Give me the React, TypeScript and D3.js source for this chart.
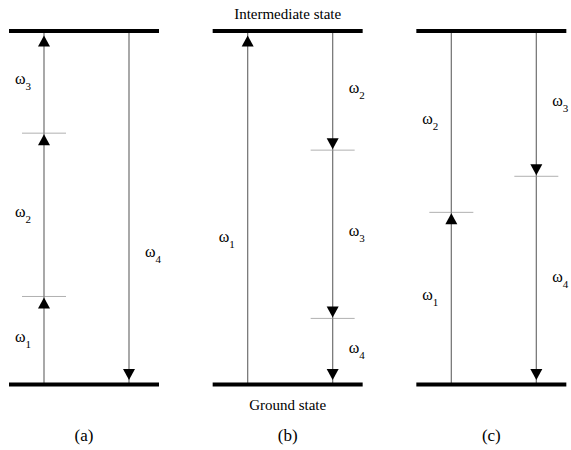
import React from 'react';
import * as d3 from 'd3';

// panels of the diagram
const panelKeys = ['a', 'b', 'c'];
const panelLabels = ['(a)', '(b)', '(c)'];
const levelNames = ['Ground state', 'Intermediate state'];

// transitions, energies relative to ground (0) and intermediate state (1)
// col: 0 = left arrow, 1 = right arrow
const transitionsA = [
  { col: 0, from: 0, to: 0.249, sub: '1', side: 'left', labelAt: 0.5, head: true },
  { col: 0, from: 0.249, to: 0.711, sub: '2', side: 'left', labelAt: 0.5, head: true },
  { col: 0, from: 0.711, to: 1, sub: '3', side: 'left', labelAt: 0.5, head: true },
  { col: 1, from: 1, to: 0, sub: '4', side: 'right', labelAt: 0.365, head: true },
];
const transitionsB = [
  { col: 0, from: 0, to: 1, sub: '1', side: 'left', labelAt: 0.41, head: true },
  { col: 1, from: 1, to: 0.663, sub: '2', side: 'right', labelAt: 0.5, head: true },
  { col: 1, from: 0.663, to: 0.187, sub: '3', side: 'right', labelAt: 0.5, head: true },
  { col: 1, from: 0.187, to: 0, sub: '4', side: 'right', labelAt: 0.5, head: true },
];
const transitionsC = [
  { col: 0, from: 0, to: 0.487, sub: '1', side: 'left', labelAt: 0.5, head: true },
  { col: 0, from: 0.487, to: 1, sub: '2', side: 'left', labelAt: 0.5, head: false },
  { col: 1, from: 1, to: 0.589, sub: '3', side: 'right', labelAt: 0.5, head: true },
  { col: 1, from: 0.589, to: 0, sub: '4', side: 'right', labelAt: 0.5, head: true },
];
const transitions = [transitionsA, transitionsB, transitionsC];

const width = 571;
const height = 450;
const font = 'Liberation Serif';

const App = () => {
  const y = d3.scaleLinear().domain([0, 1]).range([384.5, 31]);
  const panelX = d3.scaleBand().domain(panelKeys).range([9, 620]).paddingInner(0);
  const barW = 150;
  // position of the two arrow columns inside a panel
  const colX = d3.scaleLinear().domain([0, 1]).range([35, 120]);

  return (
    <svg width={width} height={height} style={{ position: 'absolute', left: 0, top: 0, background: '#fff' }}>
      {panelKeys.map((k, pi) => {
        const x0 = panelX(k)!;
        const trs = transitions[pi];
        const cx = x0 + barW / 2;
        return (
          <g key={k}>
            {/* intermediate level ticks */}
            {trs.filter(t => t.to > 0 && t.to < 1).map((t, i) => {
              const ax = x0 + colX(t.col);
              return <line key={'t' + i} x1={ax - 22} x2={ax + 22} y1={y(t.to)} y2={y(t.to)}
                stroke="#b0b0b0" strokeWidth={1} />;
            })}
            {/* arrow lines */}
            {trs.map((t, i) => {
              const ax = x0 + colX(t.col);
              return <line key={'l' + i} x1={ax} x2={ax} y1={y(t.from)} y2={y(t.to)}
                stroke="#7a7a7a" strokeWidth={1.3} />;
            })}
            {/* arrow heads */}
            {trs.filter(t => t.head).map((t, i) => {
              const ax = x0 + colX(t.col);
              const up = t.to > t.from;
              const edge = t.to === 0 || t.to === 1;
              const tip = y(t.to) + (up ? 1 : -1) * (edge ? 4.5 : 1);
              const base = tip + (up ? 11 : -11);
              const p = d3.path();
              p.moveTo(ax, tip);
              p.lineTo(ax - 6, base);
              p.lineTo(ax + 6, base);
              p.closePath();
              return <path key={'h' + i} d={p.toString()} fill="#000" />;
            })}
            {/* level bars */}
            {[0, 1].map(e => (
              <line key={'b' + e} x1={x0} x2={x0 + barW} y1={y(e)} y2={y(e)} stroke="#000" strokeWidth={4} />
            ))}
            {/* omega labels */}
            {trs.map((t, i) => {
              const ax = x0 + colX(t.col);
              const lo = Math.min(t.from, t.to);
              const hi = Math.max(t.from, t.to);
              const ly = y(lo + (hi - lo) * t.labelAt);
              const lx = t.side === 'left' ? ax - 29 : ax + 16;
              return (
                <text key={'w' + i} x={lx} y={ly + 2} fontSize={16} fill="#000" fontFamily={font}>
                  ω<tspan fontSize={11} dy={6}>{t.sub}</tspan>
                </text>
              );
            })}
            <text x={cx} y={441} textAnchor="middle" fontSize={17} fontFamily={font}>{panelLabels[pi]}</text>
            {pi === 1 && (
              <>
                <text x={cx} y={19} textAnchor="middle" fontSize={15} fontFamily={font}>{levelNames[1]}</text>
                <text x={cx} y={410} textAnchor="middle" fontSize={15} fontFamily={font}>{levelNames[0]}</text>
              </>
            )}
          </g>
        );
      })}
    </svg>
  );
};

export default App;
